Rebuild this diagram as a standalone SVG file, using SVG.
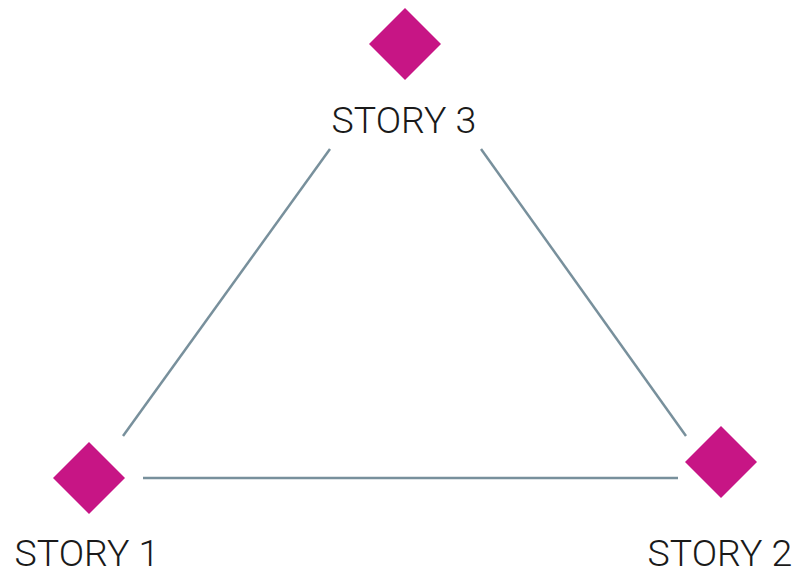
<svg xmlns="http://www.w3.org/2000/svg" width="794" height="572" viewBox="0 0 794 572">
<style>
.d{fill:#c71585}
.t{font-family:Roboto,"Liberation Sans",sans-serif;font-weight:300;font-size:37.5px;fill:#1a1a1a;text-anchor:middle}
.c{stroke:#78909c;stroke-width:2.5;fill:none}
</style>
<rect width="794" height="572" fill="#fff"/>
<g id="connectors">
<line class="c" x1="123" y1="436" x2="330" y2="149"/>
<line class="c" x1="481" y1="149" x2="686" y2="436"/>
<line class="c" x1="143" y1="478" x2="678" y2="478"/>
</g>
<g id="story3">
<polygon class="d" points="405,8 441,44 405,80 369,44"/>
<text class="t" x="404" y="133">STORY 3</text>
</g>
<g id="story1">
<polygon class="d" points="89,442 125,478 89,514 53,478"/>
<text class="t" x="87" y="566">STORY 1</text>
</g>
<g id="story2">
<polygon class="d" points="721,426 757,462 721,498 685,462"/>
<text class="t" x="720" y="566">STORY 2</text>
</g>
</svg>
